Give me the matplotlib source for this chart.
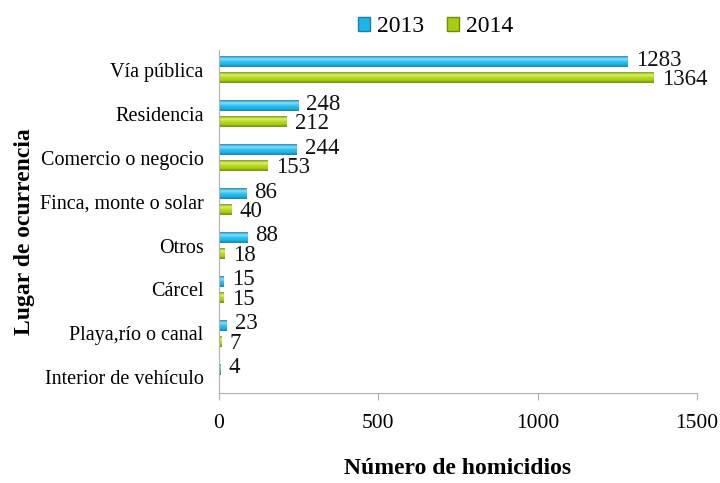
import numpy as np
import matplotlib
matplotlib.use("Agg")
import matplotlib.pyplot as plt
from matplotlib.colors import LinearSegmentedColormap
from matplotlib.patches import Rectangle

categories = ["Vía pública", "Residencia", "Comercio o negocio", "Finca, monte o solar",
              "Otros", "Cárcel", "Playa,río o canal", "Interior de vehículo"]
v2013 = [1283, 248, 244, 86, 88, 15, 23, 4]
v2014 = [1364, 212, 153, 40, 18, 15, 7, 0]
xticks = [0, 500, 1000, 1500]

plt.rcParams['font.family'] = ['Liberation Serif', 'DejaVu Serif']

# cylinder-like shading, top row first
blue_cm = LinearSegmentedColormap.from_list("b", ["#1a8ab8", "#8fe2fa", "#2cc4f2", "#1fb4e6", "#1780ad"])
green_cm = LinearSegmentedColormap.from_list("g", ["#7c9a10", "#e0f470", "#b6dc1c", "#a6cc14", "#6e8c08"])

fig = plt.figure(figsize=(7.2, 4.83), dpi=100)
ax = fig.add_axes([0.304, 0.186, 0.664, 0.711])

y = np.arange(len(categories))
h = 0.25
off = 0.185
b1 = ax.barh(y - off, v2013, height=h, color="#1fb4e6", label="2013")
b2 = ax.barh(y + off, v2014, height=h, color="#a6cc14", label="2014")

grad = np.linspace(0, 1, 64).reshape(-1, 1)
for bars, cm in [(b1, blue_cm), (b2, green_cm)]:
    for p in bars:
        if p.get_width() <= 0:
            continue
        x0, y0 = p.get_x(), p.get_y()
        w, hh = p.get_width(), p.get_height()
        # axis is inverted, so extent top is y0 (visually upper edge)
        ax.imshow(grad, cmap=cm, aspect="auto", extent=(x0, x0 + w, y0 + hh, y0),
                  clip_path=p, clip_on=True, zorder=2, interpolation="bicubic")
        p.set_zorder(1)

for bars, vals, dy, ny in [(b1, v2013, -off, 1), (b2, v2014, off, -1.5)]:
    for yi, v in zip(y, vals):
        if v <= 0:
            continue
        ax.annotate(str(v), (v, yi + dy), xytext=(6, ny), textcoords="offset points",
                    va="center", ha="left", fontsize=16.5, color="#111111")

ax.set_xlim(0, 1500)
ax.set_ylim(7.36, -0.455)
ax.set_xticks(xticks)
ax.set_xticklabels([str(t) for t in xticks], fontsize=15.5)
ax.set_yticks(y)
ax.set_yticklabels(categories, fontsize=14.5)
ax.tick_params(axis="y", length=0, pad=11)
ax.tick_params(axis="x", length=5, color="#b0b0b0", pad=10, direction="out")
for s in ["top", "right"]:
    ax.spines[s].set_visible(False)
for s in ["left", "bottom"]:
    ax.spines[s].set_color("#b0b0b0")

ax.set_xlabel("Número de homicidios", fontsize=17, fontweight="bold")
ax.set_ylabel("Lugar de ocurrencia", fontsize=17, fontweight="bold")
ax.xaxis.set_label_coords(0.5, -0.19)
ax.yaxis.set_label_coords(-0.385, 0.47)

handles = [Rectangle((0, 0), 1, 1, facecolor="#1fb4e6", edgecolor="#1780ad"),
           Rectangle((0, 0), 1, 1, facecolor="#a6cc14", edgecolor="#6e8c08")]
fig.legend(handles, ["2013", "2014"], loc="upper center", bbox_to_anchor=(0.605, 1.01),
           ncol=2, frameon=False, fontsize=17, handlelength=0.5, handleheight=0.5,
           handletextpad=0.3, columnspacing=1.0)

fig.savefig("out.png", dpi=100)
